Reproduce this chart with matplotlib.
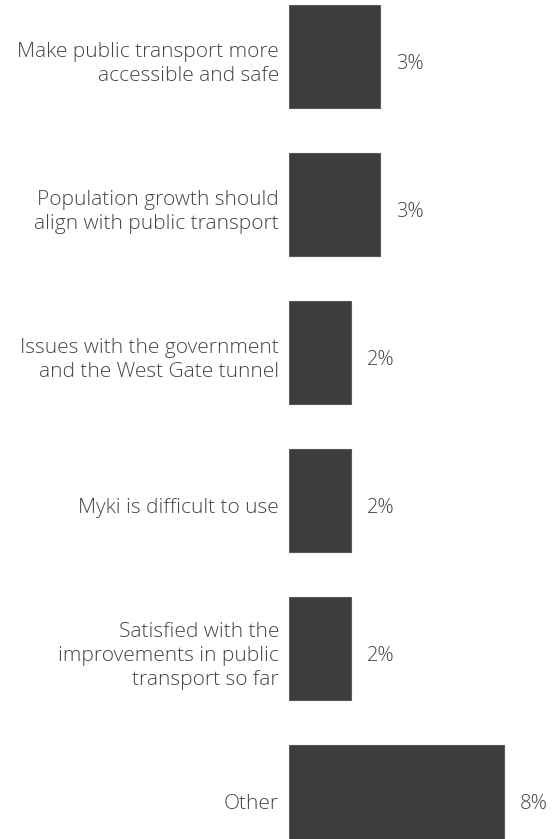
import matplotlib.pyplot as plt

categories = [
    "Make public transport more\naccessible and safe",
    "Population growth should\nalign with public transport",
    "Issues with the government\nand the West Gate tunnel",
    "Myki is difficult to use",
    "Satisfied with the\nimprovements in public\ntransport so far",
    "Other",
]
values = [3.4, 3.4, 2.3, 2.3, 2.3, 8.0]
value_labels = ["3%", "3%", "2%", "2%", "2%", "8%"]

plt.rcParams['font.family'] = ['Open Sans', 'DejaVu Sans']

fig = plt.figure(figsize=(5.53, 8.39), dpi=100)
ax = fig.add_axes([289 / 553, 0, 264 / 553, 1])

ypos = list(range(len(categories)))
ax.barh(ypos, values, height=0.7, color='#3d3d3d', edgecolor='#5a5a5a', linewidth=0.8)

ax.set_xlim(0, 264 / 215 * 8.0)
ax.set_ylim(5 + 42.5 / 148, -56.5 / 148)

text_color = '#444444'
for y, v, lab, cat in zip(ypos, values, value_labels, categories):
    ax.text(v + 16 / 215 * 8.0, y + 0.05, lab, ha='left', va='center',
            fontsize=14.5, color=text_color, fontweight=300)
    ax.text(-10 / 215 * 8.0, y + 0.05, cat, ha='right', va='center',
            fontsize=15, color=text_color, fontweight=300,
            linespacing=1.25, clip_on=False)

ax.axis('off')
fig.savefig("out.png", dpi=100)
